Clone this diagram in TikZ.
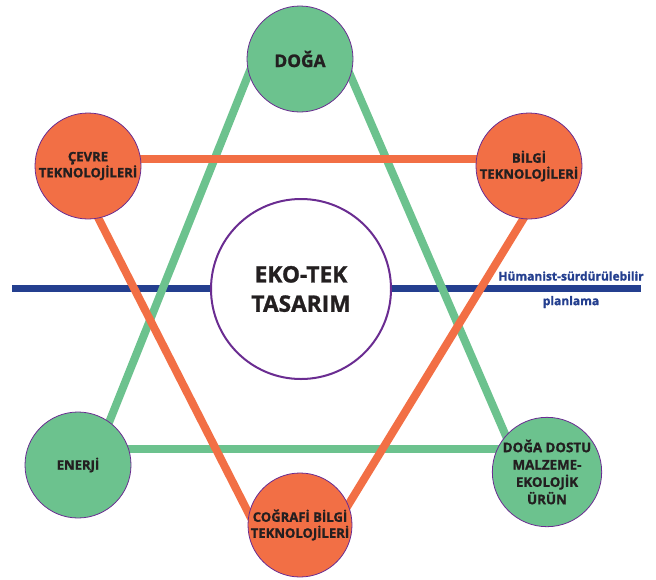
\documentclass[tikz,border=0pt]{standalone}
\usepackage{fontspec}
\setmainfont{Open Sans}[BoldFeatures={FakeBold=1.2}]
\definecolor{grn}{RGB}{108,194,142}
\definecolor{org}{RGB}{242,111,69}
\definecolor{prp}{RGB}{106,44,145}
\definecolor{blu}{RGB}{36,63,143}
\definecolor{txt}{RGB}{35,31,32}
\tikzset{
  bubble/.style={circle, draw=prp, line width=0.6pt, inner sep=0pt, minimum size=79.5pt,
    align=center, text=txt, font=\fontsize{9.8}{12}\selectfont\bfseries},
  gbubble/.style={bubble, fill=grn},
  obubble/.style={bubble, fill=org},
  gline/.style={draw=grn, line width=6pt},
  oline/.style={draw=org, line width=6pt},
  bline/.style={draw=blu, line width=5.25pt},
  bluetext/.style={text=blu, font=\fontsize{9}{11}\selectfont\bfseries, inner sep=0pt}
}
\begin{document}
\begin{tikzpicture}[x=0.75pt, y=-0.75pt]
\useasboundingbox (0,0) rectangle (656,579);
% line ends
\coordinate (bL) at (12,288);
\coordinate (bR) at (641,288);
\coordinate (gA) at (255,58);
\coordinate (gB) at (106,430);
\coordinate (gC) at (348,70);
\coordinate (gD) at (512,450);
\coordinate (gE) at (100,449);
\coordinate (gF) at (520,449);
\coordinate (oA) at (100,159);
\coordinate (oB) at (520,159);
\coordinate (oC) at (84,190);
\coordinate (oD) at (252,520);
\coordinate (oE) at (541,190);
\coordinate (oF) at (339,520);
% planning axis
\draw[bline] (bL) -- (bR);
% triangles
\draw[gline] (gA) -- (gB);
\draw[gline] (gC) -- (gD);
\draw[gline] (gE) -- (gF);
\draw[oline] (oA) -- (oB);
\draw[oline] (oC) -- (oD);
\draw[oline] (oE) -- (oF);
% circles
\node[gbubble, font=\fontsize{13}{15}\selectfont\bfseries] (doga) at (300,59) {DOĞA};
\node[obubble] (cevre) at (88,166) {ÇEVRE\\TEKNOLOJİLERİ};
\node[obubble] (bilgi) at (529,166) {BİLGİ\\TEKNOLOJİLERİ};
\node[gbubble] (enerji) at (78,465) {ENERJİ};
\node[gbubble, minimum size=76.5pt, font=\fontsize{10}{13}\selectfont\bfseries] (dostu) at (547,472) {DOĞA DOSTU\\MALZEME-\\EKOLOJİK\\ÜRÜN};
\node[obubble, minimum size=78pt] (cografi) at (300,525) {COĞRAFİ BİLGİ\\TEKNOLOJİLERİ};
\node[circle, draw=prp, fill=white, line width=1.5pt, minimum size=135pt, inner sep=0pt,
  align=center, text=txt, font=\fontsize{17}{22}\selectfont\bfseries] (eko) at (301,289) {EKO-TEK\\TASARIM};
% axis labels
\node[bluetext] (hum) at (571,276) {Hümanist-sürdürülebilir};
\node[bluetext] (plan) at (571,302) {planlama};
\end{tikzpicture}
\end{document}
